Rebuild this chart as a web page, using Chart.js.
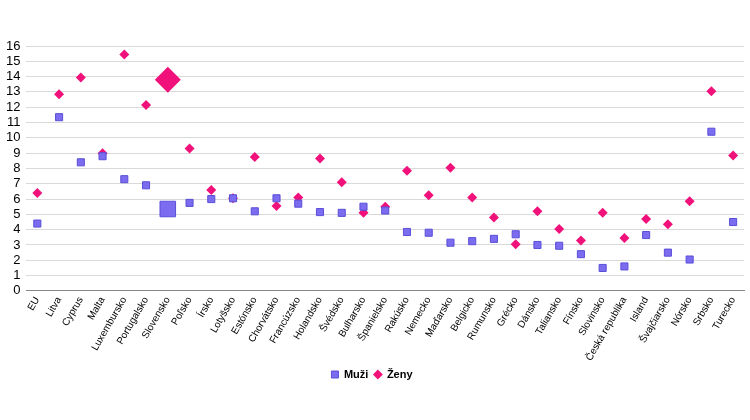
<!DOCTYPE html>
<html>
<head>
<script src="https://cdn.jsdelivr.net/npm/chart.js@4/dist/chart.umd.min.js"></script>
<style>body{margin:0;background:#fff}#wrap{width:750px;height:420px}</style>
</head>
<body>
<div id="wrap"><canvas id="myChart"></canvas></div>
<script>
var labels = ['EU','Litva','Cyprus','Malta','Luxembursko','Portugalsko','Slovensko','Poľsko','Írsko','Lotyšsko','Estónsko','Chorvátsko','Francúzsko','Holandsko','Švédsko','Bulharsko','Španielsko','Rakúsko','Nemecko','Maďarsko','Belgicko','Rumunsko','Grécko','Dánsko','Taliansko','Fínsko','Slovinsko','Česká republika','Island','Švajčiarsko','Nórsko','Srbsko','Turecko'];
var muzi = [4.4,11.35,8.4,8.8,7.3,6.9,5.35,5.75,6.0,6.05,5.2,6.05,5.7,5.15,5.1,5.5,5.25,3.85,3.8,3.15,3.25,3.4,3.7,3.0,2.95,2.4,1.5,1.6,3.65,2.5,2.05,10.4,4.5];
var zeny = [6.4,12.85,13.95,9.0,15.45,12.15,13.8,9.3,6.6,6.05,8.75,5.55,6.1,8.65,7.1,5.1,5.5,7.85,6.25,8.05,6.1,4.8,3.05,5.2,4.05,3.3,5.1,3.45,4.7,4.35,5.85,13.05,8.85];
var yTicks = [0,1,2,3,4,5,6,7,8,9,10,11,12,13,14,15,16];

var big = 'Slovensko';
var sqR = labels.map(function(l){ return l == big ? 11 : 5; });
var dmR = labels.map(function(l){ return l == big ? 13 : 5; });

Chart.defaults.font.family = 'Liberation Sans, Arial, sans-serif';
Chart.defaults.color = '#000';
var ctx = document.getElementById('myChart');
new Chart(ctx, {
    type: 'line',
    data: {
        labels: labels,
        datasets: [
        {
            label: 'Muži',
            data: muzi,
            showLine: false,
            pointStyle: 'rect',
            pointRadius: sqR,
            pointHoverRadius: sqR,
            pointBackgroundColor: '#7b6cf0',
            pointBorderColor: '#5a4fd8',
            pointBorderWidth: 1
        },
        {
            label: 'Ženy',
            data: zeny,
            showLine: false,
            pointStyle: 'rectRot',
            pointRadius: dmR,
            pointHoverRadius: dmR,
            pointBackgroundColor: '#f0127a',
            pointBorderColor: '#f0127a',
            pointBorderWidth: 0
        }
        ]
    },
    options: {
        responsive: true,
        maintainAspectRatio: false,
        animation: false,
        layout: { padding: { top: 46, right: 6, left: 0, bottom: 30 } },
        plugins: {
            legend: {
                position: 'bottom',
                labels: { usePointStyle: true, boxWidth: 7, boxHeight: 7, padding: 6, font: { size: 11, weight: 'bold' } }
            },
            tooltip: { enabled: false }
        },
        scales: {
            x: {
                offset: true,
                grid: { display: false, drawTicks: true, tickLength: 4 },
                border: { color: '#888' },
                ticks: { maxRotation: 60, minRotation: 60, autoSkip: false, font: { size: 10 }, padding: 0 }
            },
            y: {
                min: 0, max: 16,
                afterBuildTicks: function(ax){ ax.ticks = yTicks.map(function(v){ return { value: v }; }); },
                grid: { color: '#d9d9d9', drawTicks: false },
                border: { display: false },
                ticks: { autoSkip: false, stepSize: 1, font: { size: 13 }, padding: 6 }
            }
        }
    }
});
</script>
</body>
</html>
